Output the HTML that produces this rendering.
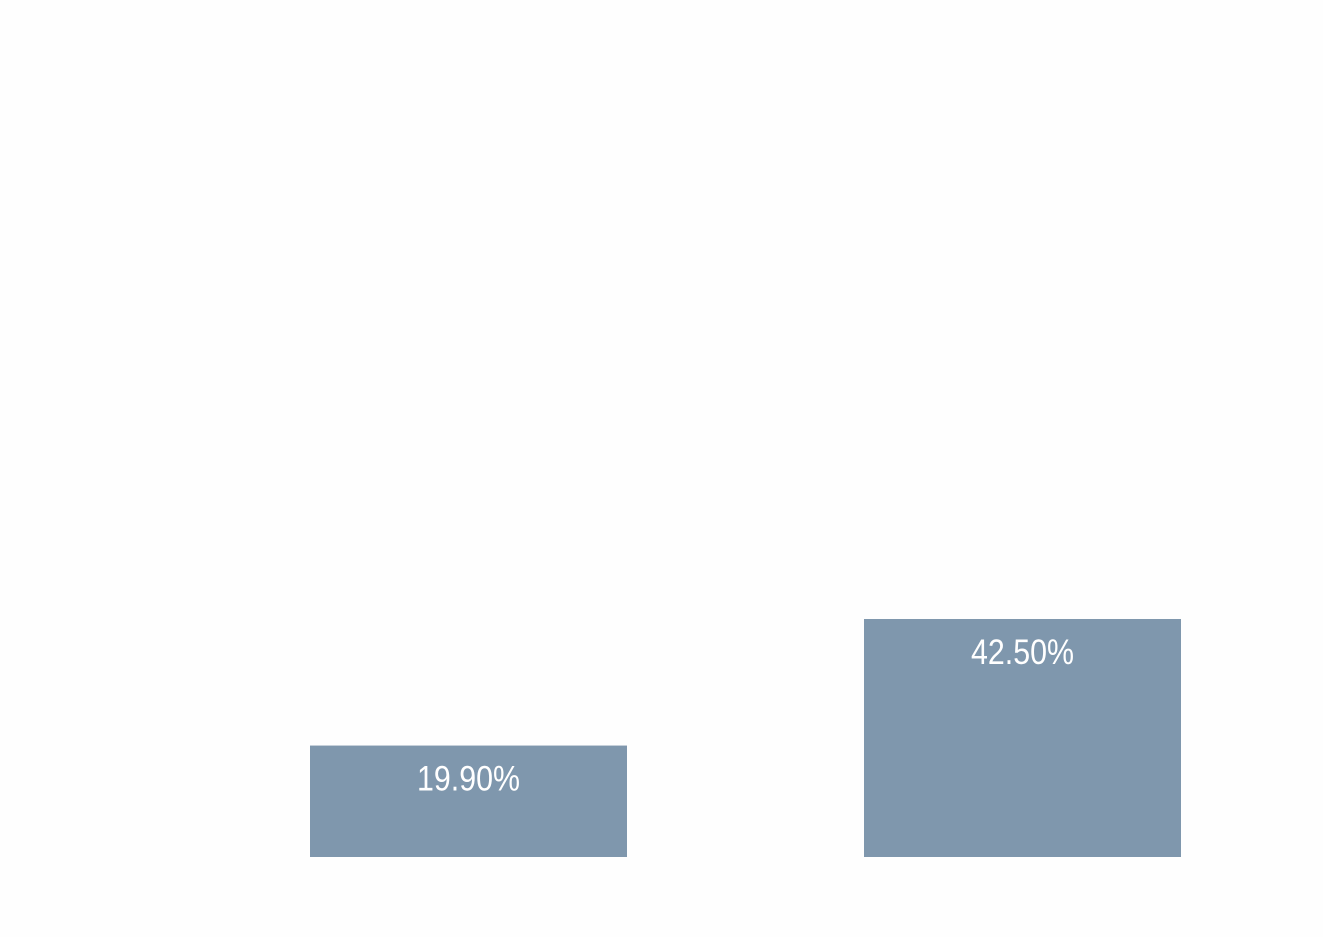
<!DOCTYPE html>
<html><head><meta charset="utf-8"><style>
html,body{margin:0;padding:0;background:#fefefe;}
svg{display:block;}
</style></head><body>
<svg width="1323" height="937" viewBox="0 0 1323 937" xmlns="http://www.w3.org/2000/svg">
<rect x="0" y="0" width="1323" height="937" fill="#fefefe"/>
<g id="bars"></g>
</svg>
<script>
const categories = ["A", "B"];
const values = [19.9, 42.5];
const valueLabels = ["19.90%", "42.50%"];

const baseline = 857, pxPerUnit = 5.6;
const barLeft0 = 310, barStep = 554, barWidth = 317;
function yScale(v){ return baseline - v * pxPerUnit; }
function xScale(i){ return barLeft0 + i * barStep; }

const g = document.getElementById('bars');
const NS = 'http://www.w3.org/2000/svg';
values.forEach((v, i) => {
  const r = document.createElementNS(NS, 'rect');
  
  
  r.setAttribute('x', xScale(i));
  r.setAttribute('y', yScale(v));
  r.setAttribute('width', barWidth);
  r.setAttribute('height', baseline - yScale(v));
  r.setAttribute('fill', '#7f97ad');
  g.appendChild(r);
  const t = document.createElementNS(NS, 'text');
  
  
  t.setAttribute('x', xScale(i) + barWidth / 2);
  t.setAttribute('y', yScale(v) + 45);
  t.setAttribute('text-anchor', 'middle');
  t.setAttribute('fill', '#ffffff');
  t.setAttribute('font-size', '35');
  t.setAttribute('font-family', '"Liberation Sans Narrow", "Liberation Sans", sans-serif');
  t.setAttribute('textLength', '103');
  t.setAttribute('lengthAdjust', 'spacingAndGlyphs');
  t.textContent = valueLabels[i];
  g.appendChild(t);
});
</script>
</body></html>
